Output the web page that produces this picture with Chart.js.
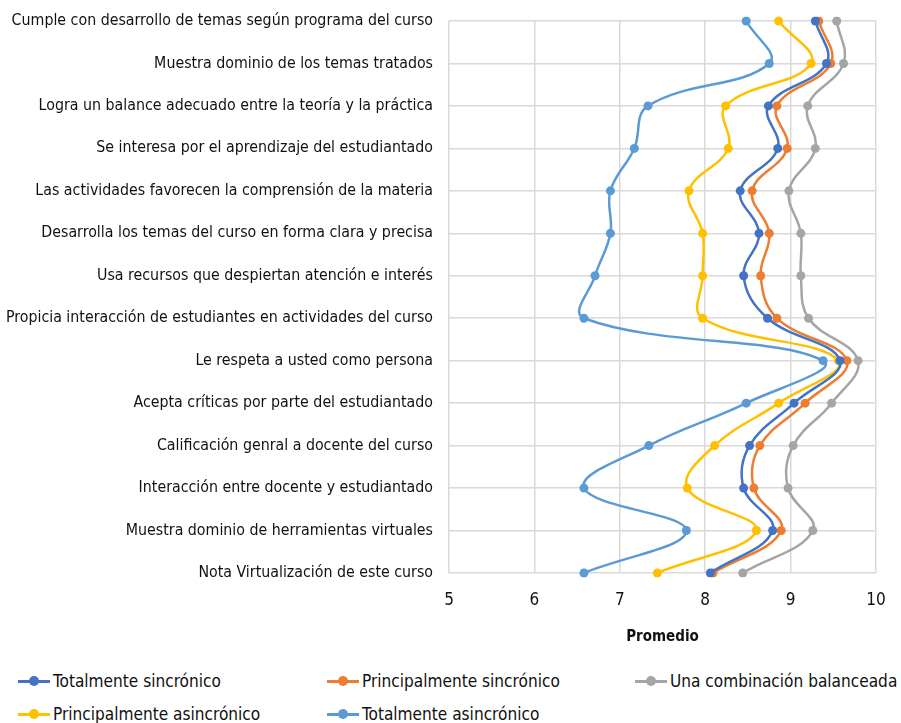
<!DOCTYPE html>
<html>
<head>
<meta charset="utf-8">
<script src="https://cdn.jsdelivr.net/npm/chart.js@4.4.0/dist/chart.umd.min.js"></script>
<style>
  body { margin: 0; background: #fff; }
  #wrap { position: relative; width: 901px; height: 723px; }
  #chart { position: absolute; left: 0; top: 0; }
  .legend { position: absolute; left: 0; top: 0; font-family: 'DejaVu Sans Condensed', sans-serif; font-size: 17.1px; color: #111; }
  .item { position: absolute; white-space: nowrap; display: flex; align-items: center; height: 22px; }
  .mk { position: relative; width: 32px; height: 3px; margin-right: 3px; }
  .mk i { position: absolute; left: 11px; top: -3.5px; width: 10px; height: 10px; border-radius: 50%; }
</style>
</head>
<body>
<div id="wrap">
  <canvas id="chart" width="901" height="650"></canvas>
  <div class="legend" id="legend"></div>
</div>
<script>
// categorías (eje Y)
const categorias = [
  'Cumple con desarrollo de temas según programa del curso',
  'Muestra dominio de los temas tratados',
  'Logra un balance adecuado entre la teoría y la práctica',
  'Se interesa por el aprendizaje del estudiantado',
  'Las actividades favorecen la comprensión de la materia',
  'Desarrolla los temas del curso en forma clara y precisa',
  'Usa recursos que despiertan atención e interés',
  'Propicia interacción de estudiantes en actividades del curso',
  'Le respeta a usted como persona',
  'Acepta críticas por parte del estudiantado',
  'Calificación genral a docente del curso',
  'Interacción entre docente y estudiantado',
  'Muestra dominio de herramientas virtuales',
  'Nota Virtualización de este curso'
];

// promedios por modalidad
const totalSincronico      = [9.29, 9.42, 8.74, 8.85, 8.41, 8.63, 8.45, 8.73, 9.58, 9.04, 8.52, 8.45, 8.79, 8.06];
const principalSincronico  = [9.33, 9.47, 8.84, 8.96, 8.55, 8.75, 8.65, 8.84, 9.66, 9.17, 8.64, 8.57, 8.89, 8.09];
const combinacion          = [9.54, 9.62, 9.20, 9.29, 8.98, 9.12, 9.12, 9.21, 9.79, 9.48, 9.03, 8.97, 9.26, 8.44];
const principalAsincronico = [8.86, 9.24, 8.24, 8.27, 7.81, 7.97, 7.97, 7.97, 9.56, 8.86, 8.11, 7.79, 8.60, 7.44];
const totalAsincronico     = [8.48, 8.75, 7.33, 7.17, 6.89, 6.89, 6.71, 6.58, 9.38, 8.48, 7.34, 6.58, 7.78, 6.58];

const series = [
  { label: 'Totalmente sincrónico', data: totalSincronico, color: '#4472C4' },
  { label: 'Principalmente sincrónico', data: principalSincronico, color: '#ED7D31' },
  { label: 'Una combinación balanceada', data: combinacion, color: '#A5A5A5' },
  { label: 'Principalmente asincrónico', data: principalAsincronico, color: '#FFC000' },
  { label: 'Totalmente asincrónico', data: totalAsincronico, color: '#5B9BD5' }
];

Chart.defaults.font.family = "'DejaVu Sans Condensed', sans-serif";
Chart.defaults.color = '#111';

const ctx = document.getElementById('chart').getContext('2d');
new Chart(ctx, {
  type: 'line',
  data: {
    labels: categorias,
    datasets: series.map(s => ({
      label: s.label,
      data: s.data,
      borderColor: s.color,
      backgroundColor: s.color,
      borderWidth: 2.5,
      pointRadius: 4.5,
      pointBorderWidth: 0,
      tension: 0.4,
      fill: false
    }))
  },
  options: {
    indexAxis: 'y',
    responsive: false,
    animation: false,
    layout: { padding: { top: 21, right: 25, left: 0, bottom: 0 } },
    plugins: { legend: { display: false }, tooltip: { enabled: false } },
    scales: {
      y: {
        type: 'category',
        offset: false,
        grid: { color: '#d9d9d9', lineWidth: 1.5, drawTicks: false },
        border: { display: false },
        ticks: { font: { size: 15.8 }, padding: 16, autoSkip: false },
        afterFit: s => { s.width = 449; s.paddingTop = 0; s.paddingBottom = 0; }
      },
      x: {
        type: 'linear',
        min: 5, max: 10,
        grid: { color: '#d9d9d9', lineWidth: 1.5, drawTicks: false },
        border: { display: false },
        ticks: { stepSize: 1, font: { size: 17 }, padding: 17 },
        title: { display: true, text: 'Promedio', font: { size: 15, weight: 'bold' }, padding: { top: 3 } },
        afterFit: s => { s.height = 77; s.paddingLeft = 0; s.paddingRight = 0; }
      }
    }
  }
});

// leyenda en HTML
const pos = [[18, 681], [327, 681], [635, 681], [18, 714], [327, 714]];
const leg = document.getElementById('legend');
series.forEach((s, i) => {
  const d = document.createElement('div');
  d.className = 'item';
  d.style.left = pos[i][0] + 'px';
  d.style.top = (pos[i][1] - 11) + 'px';
  d.innerHTML = `<span class="mk" style="background:${s.color}"><i style="background:${s.color}"></i></span>${s.label}`;
  leg.appendChild(d);
});
</script>
</body>
</html>
